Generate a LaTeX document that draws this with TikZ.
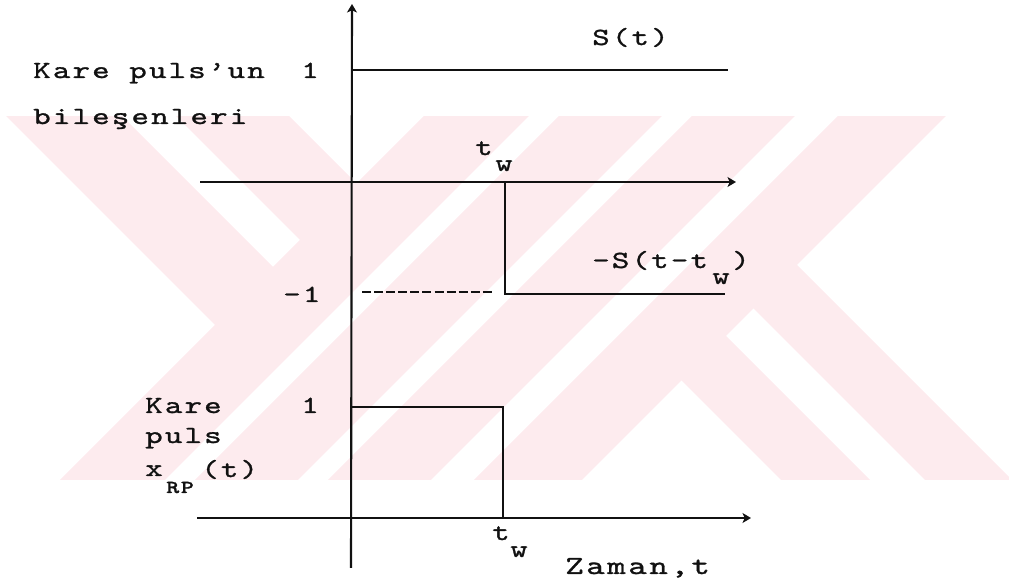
\documentclass[tikz,border=0pt]{standalone}
\usepackage{fontspec}
\usepackage{tikz}
\usetikzlibrary{arrows.meta, positioning}
\newfontfamily\dotfont{lmmono10-regular.otf}[LetterSpace=9, FakeStretch=1.35, FakeBold=1.2, BoldFont=lmmonolt10-bold.otf]
\newfontfamily\dotfontwide{lmmono10-regular.otf}[LetterSpace=10, FakeStretch=1.35, FakeBold=1.2]
\definecolor{wmPink}{HTML}{FDEBEE}
\definecolor{inkBlack}{HTML}{111111}
\tikzset{
  sigline/.style={line width=1.5pt, draw=inkBlack},
  axisarrow/.style={sigline, -{Stealth[length=6pt, width=7pt, inset=1.5pt]}},
  guideline/.style={line width=1pt, draw=inkBlack, dash pattern=on 6.4pt off 2.2pt},
  lbl/.style={font=\dotfont\fontsize{17.5}{19}\selectfont, inner sep=0pt, anchor=base west, text=inkBlack},
  bigLbl/.style={lbl, font=\dotfontwide\fontsize{18.5}{20}\selectfont},
  subLbl/.style={lbl, font=\dotfont\bfseries\fontsize{13}{15}\selectfont},
  wmband/.style={fill=wmPink, draw=none}
}

\begin{document}
\begin{tikzpicture}[x=0.025cm, y=-0.025cm]
  \useasboundingbox (0,0) rectangle (1009,582);

  % watermark
  \begin{scope}
    \clip (0,117) rectangle (1009,480);
    \foreach \va/\vb in {540/645, 675/778, 808/911, 954/1062}
      \fill[wmband] (\va-100,100) -- (\vb-100,100) -- (\vb-500,500) -- (\va-500,500) -- cycle;
    \foreach \ua/\ub in {-110/6, 60/173}
      \fill[wmband] (\ua+100,100) -- (\ub+100,100) -- ({(\ub+560)/2},{(560-\ub)/2}) -- ({(\ua+560)/2},{(560-\ua)/2}) -- cycle;
    \foreach \ua/\ub in {301/390, 445/532}
      \fill[wmband] ({(\ua+1040)/2},{(1040-\ua)/2}) -- ({(\ub+1040)/2},{(1040-\ub)/2}) -- (\ub+500,500) -- (\ua+500,500) -- cycle;
  \end{scope}

  % axes
  \coordinate (vaxB) at (351,568);
  \coordinate (vaxT) at (352,4);
  \coordinate (maxL) at (200,182);
  \coordinate (maxR) at (736,182);
  \coordinate (baxL) at (197,518);
  \coordinate (baxR) at (751,518);
  \draw[axisarrow] (vaxB) -- (vaxT);
  \draw[axisarrow] (maxL) -- (maxR);
  \draw[axisarrow] (baxL) -- (baxR);

  % S(t)
  \coordinate (stA) at (352,70);
  \coordinate (stB) at (728,70);
  \draw[sigline] (stA) -- (stB);

  % -S(t-tw)
  \coordinate (dsA) at (505,182);
  \coordinate (dsB) at (505,294);
  \coordinate (dsC) at (725,294);
  \draw[sigline] (dsA) -- (dsB) -- (dsC);
  \coordinate (lvA) at (362,292);
  \coordinate (lvB) at (493,292);
  \draw[guideline] (lvA) -- (lvB);

  % pulse
  \coordinate (rpA) at (352,407);
  \coordinate (rpB) at (503,407);
  \coordinate (rpC) at (503,518);
  \draw[sigline] (rpA) -- (rpB) -- (rpC);

  % labels
  \node[lbl] (kpTop) at (33,78) {Kare puls’un};
  \node[lbl] (kpSub) at (33,124) {bileşenleri};
  \node[lbl] (oneTop) at (301,78) {1};
  \node[lbl] (sLbl) at (592,45) {S(t)};
  \node[lbl] (twTopT) at (475,155) {t};
  \node[lbl] (twTopW) at (495,171) {w};
  \node[lbl] (minusOne) at (283,302) {-1};
  \node[lbl] (negS) at (592,268) {-S(t-t};
  \node[lbl] (negSw) at (712,284) {w};
  \node[lbl] (negSr) at (732,268) {)};
  \node[lbl] (oneBot) at (301,413) {1};
  \node[lbl] (kareBot) at (145,413) {Kare};
  \node[lbl] (pulsBot) at (145,443) {puls};
  \node[lbl] (xBot) at (145,476) {x};
  \node[subLbl] (rpSub) at (166,493) {RP};
  \node[lbl] (xArg) at (201,477) {(t)};
  \node[lbl] (twBotT) at (492,540) {t};
  \node[lbl] (twBotW) at (510,557) {w};
  \node[bigLbl] (timeLbl) at (565,574) {Zaman,t};
\end{tikzpicture}
\end{document}
